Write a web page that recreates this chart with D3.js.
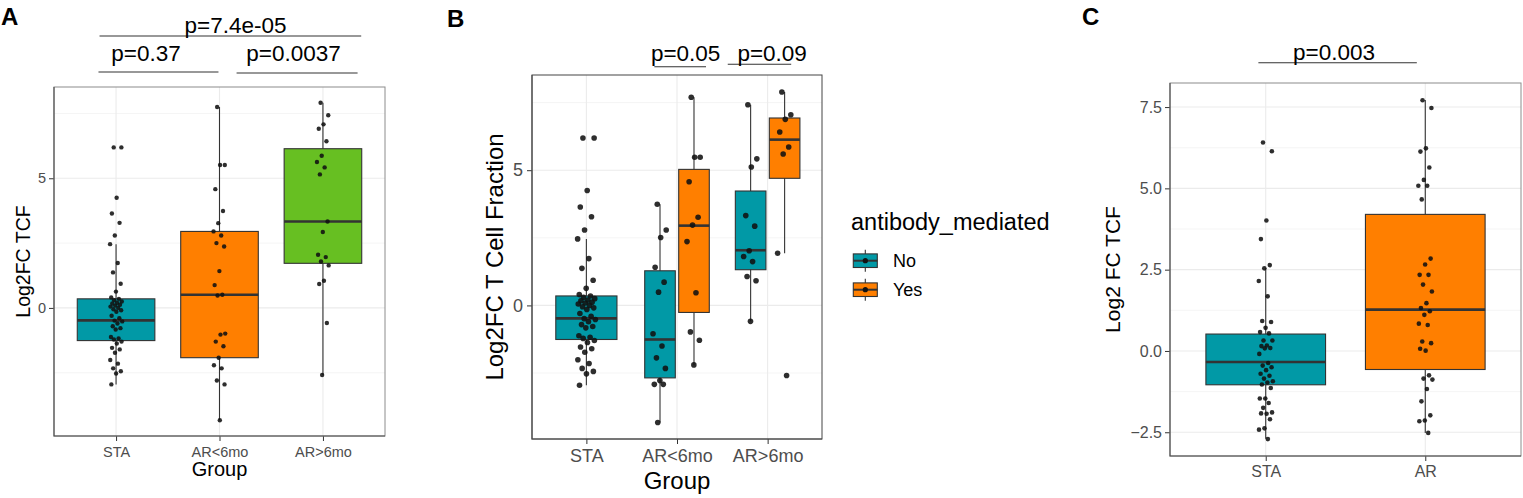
<!DOCTYPE html>
<html>
<head>
<meta charset="utf-8">
<script src="https://cdn.jsdelivr.net/npm/d3@7"></script>
<style>
body { margin: 0; background: #fff; }
svg { display: block; font-family: "Liberation Sans", Arial, Helvetica, sans-serif; }
</style>
</head>
<body>
<div id="chart-area"></div>
<script>
// ---------- data ----------
// panel A
const groupsA = ["STA", "AR<6mo", "AR>6mo"];
const tcfSTA = [6.19, 6.19, 4.25, 3.64, 3.28, 2.79, 2.46, 1.73, 1.37, 0.93, 0.63, 0.40, 0.35, 0.30, 0.25, 0.20,
  0.17, 0.12, 0.09, 0.05, 0.0, -0.05, -0.09, -0.15, -0.30, -0.40, -0.49, -0.52, -0.60, -0.71, -0.78, -0.83,
  -1.12, -1.18, -1.22, -1.30, -1.37, -1.54, -1.60, -1.73, -2.01, -2.15, -2.33, -2.44, -2.53, -2.95];
const tcfEarly = [7.75, 5.51, 5.51, 4.58, 3.74, 3.27, 2.95, 2.79, 2.50, 2.37, 1.42, 0.88, 0.51, 0.48,
  -0.99, -1.03, -1.30, -1.48, -1.92, -2.21, -2.33, -2.80, -2.95, -4.33];
const tcfLate = [7.91, 7.43, 7.08, 6.91, 6.43, 5.87, 5.63, 5.42, 5.15, 3.33, 2.93, 2.05, 1.96, 1.79, 1.64,
  1.05, 0.92, -0.58, -2.59];
// [lower whisker, q1, median, q3, upper whisker]
const boxSTA = [-2.95, -1.26, -0.48, 0.35, 2.46];
const boxEarly = [-4.33, -1.92, 0.51, 2.95, 7.75];
const boxLate = [-2.59, 1.72, 3.33, 6.14, 7.91];
const pvalsA = ["p=7.4e-05", "p=0.37", "p=0.0037"];

// panel B (STA reuses tcfSTA / boxSTA)
const subgroupsB = ["No", "Yes"];
const tcfEarlyNo = [3.74, 2.79, 2.51, 1.41, 0.86, 0.49, -1.05, -1.50, -1.94, -2.33, -2.78, -2.92, -2.92, -4.33];
const tcfEarlyYes = [7.70, 5.48, 5.48, 4.57, 3.26, 2.97, 2.36, 0.47, -0.98, -1.29, -2.20];
const tcfLateNo = [7.42, 5.42, 5.12, 3.32, 2.93, 2.02, 1.81, 1.62, 1.07, 0.91, -0.59];
const tcfLateYes = [7.89, 7.05, 6.88, 6.41, 5.86, 5.60, 1.93, -2.59];
const boxEarlyNo = [-4.33, -2.68, -1.26, 1.28, 3.74];
const boxEarlyYes = [-2.21, -0.26, 2.95, 5.03, 7.70];
const boxLateNo = [-0.59, 1.32, 2.04, 4.23, 7.42];
const boxLateYes = [1.93, 4.70, 6.13, 6.93, 7.89];
const pvalsB = ["p=0.05", "p=0.09"];

// panel C
const groupsC = ["STA", "AR"];
const tcfC_STA = [6.41, 6.14, 4.01, 3.44, 2.64, 2.54, 2.15, 1.68, 0.92, 0.89, 0.71, 0.58, 0.54, 0.32, 0.32, 0.17,
  0.15, 0.09, 0.08, -0.09, -0.37, -0.45, -0.50, -0.59, -0.70, -0.76, -0.85, -0.93, -0.97, -1.03, -1.14, -1.46,
  -1.46, -1.60, -1.75, -1.89, -1.93, -1.92, -2.10, -2.38, -2.42, -2.71];
const tcfC_AR = [7.71, 7.47, 6.23, 6.13, 5.64, 5.26, 5.08, 5.08, 4.66, 2.84, 2.66, 2.34, 2.34, 2.04, 1.83, 1.47,
  1.32, 1.22, 1.11, 0.84, 0.80, 0.29, 0.24, 0.01, 0.07, -0.75, -0.85, -0.88, -1.17, -1.55, -1.98, -2.14, -2.16, -2.52];
const boxC_STA = [-2.70, -1.04, -0.34, 0.52, 2.55];
const boxC_AR = [-2.52, -0.57, 1.27, 4.20, 7.72];
const pvalC = ["p=0.003"];

const yTicksAB = [0, 5];
const yMinorAB = [-2.5, 2.5, 7.5];
const yTicksC = [-2.5, 0, 2.5, 5, 7.5];
const yMinorC = [-1.25, 1.25, 3.75, 6.25];

const TEAL = "#0199a6", ORANGE = "#ff7f00", GREEN = "#67bf22";
const DARK = "#333333";

const svg = d3.select("#chart-area").append("svg").attr("width", 1523).attr("height", 498);

// deterministic jitter in [-1, 1]
const jit = i => ((i * 0.618034 + 0.31) % 1) * 2 - 1;

function panel(o) {
    const x = d3.scalePoint().domain(o.cats).range([o.left, o.right]).padding(0.6);
    const y = d3.scaleLinear().domain(o.yDomain).range([o.bottom, o.top]);
    const g = svg.append("g");

    g.selectAll(".minor").data(o.minor).enter().append("line")
        .attr("x1", o.left).attr("x2", o.right)
        .attr("y1", d => y(d)).attr("y2", d => y(d))
        .attr("stroke", "#f3f3f3").attr("stroke-width", 0.8);
    g.selectAll(".major").data(o.ticks).enter().append("line")
        .attr("x1", o.left).attr("x2", o.right)
        .attr("y1", d => y(d)).attr("y2", d => y(d))
        .attr("stroke", "#ebebeb").attr("stroke-width", 1.1);
    g.selectAll(".vgrid").data(o.cats).enter().append("line")
        .attr("x1", d => x(d)).attr("x2", d => x(d))
        .attr("y1", o.top).attr("y2", o.bottom)
        .attr("stroke", "#ebebeb").attr("stroke-width", 1.1);

    const yAxis = g.append("g").attr("transform", `translate(${o.left},0)`)
        .call(d3.axisLeft(y).tickValues(o.ticks).tickSize(5).tickPadding(o.yPad)
            .tickFormat(o.fmt || d3.format("d")));
    const xAxis = g.append("g").attr("transform", `translate(0,${o.bottom})`)
        .call(d3.axisBottom(x).tickSize(5).tickPadding(o.xPad));
    [yAxis, xAxis].forEach(a => {
        a.select(".domain").remove();
        a.selectAll("line").attr("stroke", DARK);
        a.selectAll("text").attr("fill", "#4d4d4d").attr("font-size", o.tickFont + "px")
            .attr("font-family", "Liberation Sans, Arial, sans-serif");
    });
    return { x, y, g, step: x.step() };
}

function frame(p, o, allDark) {
    p.g.append("rect").attr("x", o.left).attr("y", o.top)
        .attr("width", o.right - o.left).attr("height", o.bottom - o.top)
        .attr("fill", "none").attr("stroke", allDark ? "#444" : "#8c8c8c").attr("stroke-width", 1);
    p.g.append("path").attr("d", `M${o.left},${o.top}V${o.bottom}H${o.right}`)
        .attr("fill", "none").attr("stroke", "#4d4d4d").attr("stroke-width", 1.1);
}

function drawBox(p, cx, w, s, fill) {
    const y = p.y;
    p.g.append("line").attr("x1", cx).attr("x2", cx).attr("y1", y(s[0])).attr("y2", y(s[4]))
        .attr("stroke", DARK).attr("stroke-width", 1.1);
    p.g.append("rect").attr("x", cx - w / 2).attr("width", w)
        .attr("y", y(s[3])).attr("height", y(s[1]) - y(s[3]))
        .attr("fill", fill).attr("stroke", DARK).attr("stroke-width", 1.1);
    p.g.append("line").attr("x1", cx - w / 2).attr("x2", cx + w / 2)
        .attr("y1", y(s[2])).attr("y2", y(s[2]))
        .attr("stroke", DARK).attr("stroke-width", 2.6);
}

function drawPoints(p, cx, spread, vals, r) {
    p.g.append("g").selectAll("circle").data(vals).enter().append("circle")
        .attr("cx", (d, i) => cx + jit(i) * spread)
        .attr("cy", d => p.y(d)).attr("r", r)
        .attr("fill", "#111").attr("fill-opacity", 0.88);
}

function bracket(p, x1, x2, yLine, label, tx, ty) {
    p.g.append("line").attr("x1", x1).attr("x2", x2).attr("y1", yLine).attr("y2", yLine)
        .attr("stroke", "#333").attr("stroke-width", 1.1);
    p.g.append("text").attr("x", tx).attr("y", ty).attr("text-anchor", "middle")
        .attr("font-size", "22.5px").attr("fill", "#000").text(label);
}

function tag(x, y, t) {
    svg.append("text").attr("x", x).attr("y", y).attr("font-size", "24px")
        .attr("font-weight", "bold").text(t);
}

// ---------- panel A ----------
const oA = { left: 54, right: 385, top: 87, bottom: 436, cats: groupsA, yDomain: [-4.94, 8.52],
    ticks: yTicksAB, minor: yMinorAB, tickFont: 14.5, yPad: 3, xPad: 5.4 };
const pA = panel(oA);
const fillsA = [TEAL, ORANGE, GREEN];
[boxSTA, boxEarly, boxLate].forEach((s, i) => drawBox(pA, pA.x(groupsA[i]), 0.75 * pA.step, s, fillsA[i]));
[tcfSTA, tcfEarly, tcfLate].forEach((v, i) => drawPoints(pA, pA.x(groupsA[i]), 0.06 * pA.step, v, 2.2));
frame(pA, oA, false);
{
    const s = pA.step, xa = pA.x;
    bracket(pA, xa("STA") - 0.16 * s, xa("AR>6mo") + 0.37 * s, 36, pvalsA[0], xa("AR<6mo") + 0.155 * s, 33);
    bracket(pA, xa("STA") - 0.17 * s, xa("AR<6mo") - 0.01 * s, 72, pvalsA[1], xa("STA") + 0.29 * s, 61);
    bracket(pA, xa("AR<6mo") + 0.165 * s, xa("AR>6mo") + 0.335 * s, 73, pvalsA[2], xa("AR<6mo") + 0.716 * s, 61);
}
svg.append("text").attr("transform", `translate(30,${(oA.top + oA.bottom) / 2}) rotate(-90)`)
    .attr("text-anchor", "middle").attr("font-size", "19.5px").text("Log2FC TCF");
svg.append("text").attr("x", (oA.left + oA.right) / 2).attr("y", 476)
    .attr("text-anchor", "middle").attr("font-size", "20px").text("Group");
tag(1, 25, "A");

// ---------- panel B ----------
const oB = { left: 532, right: 822, top: 75, bottom: 439, cats: groupsA, yDomain: [-4.94, 8.52],
    ticks: yTicksAB, minor: yMinorAB, tickFont: 18, yPad: 4, xPad: 4.9 };
const pB = panel(oB);
{
    const s = pB.step, xb = pB.x;
    const half = 0.75 / 2 * 0.9 * s, off = 0.1875 * s;
    drawBox(pB, xb("STA"), 0.75 * 0.9 * s, boxSTA, TEAL);
    drawBox(pB, xb("AR<6mo") - off, half, boxEarlyNo, TEAL);
    drawBox(pB, xb("AR<6mo") + off, half, boxEarlyYes, ORANGE);
    drawBox(pB, xb("AR>6mo") - off, half, boxLateNo, TEAL);
    drawBox(pB, xb("AR>6mo") + off, half, boxLateYes, ORANGE);
    drawPoints(pB, xb("STA"), 0.1 * s, tcfSTA, 2.8);
    drawPoints(pB, xb("AR<6mo") - off, 0.08 * s, tcfEarlyNo, 2.8);
    drawPoints(pB, xb("AR<6mo") + off, 0.08 * s, tcfEarlyYes, 2.8);
    drawPoints(pB, xb("AR>6mo") - off, 0.08 * s, tcfLateNo, 2.8);
    drawPoints(pB, xb("AR>6mo") + off, 0.08 * s, tcfLateYes, 2.8);
    frame(pB, oB, true);
    bracket(pB, xb("AR<6mo") - 0.25 * s, xb("AR<6mo") + 0.32 * s, 66.7, pvalsB[0], xb("AR<6mo") + 0.095 * s, 60.7);
    bracket(pB, xb("AR>6mo") - 0.44 * s, xb("AR>6mo") + 0.26 * s, 64.3, pvalsB[1], xb("AR>6mo") + 0.05 * s, 60.7);
}
svg.append("text").attr("transform", `translate(503,${(oB.top + oB.bottom) / 2}) rotate(-90)`)
    .attr("text-anchor", "middle").attr("font-size", "24px").text("Log2FC T Cell Fraction");
svg.append("text").attr("x", (oB.left + oB.right) / 2).attr("y", 489)
    .attr("text-anchor", "middle").attr("font-size", "24px").text("Group");
tag(447, 27, "B");

// legend
const legend = svg.append("g");
legend.append("text").attr("x", 851).attr("y", 230).attr("font-size", "23.5px").text("antibody_mediated");
subgroupsB.forEach((k, i) => {
    const cy = 260.7 + i * 29, cx = 865.3;
    legend.append("line").attr("x1", cx).attr("x2", cx).attr("y1", cy - 11).attr("y2", cy + 11)
        .attr("stroke", DARK).attr("stroke-width", 1.1);
    legend.append("rect").attr("x", cx - 12).attr("y", cy - 6.8).attr("width", 24).attr("height", 13.6)
        .attr("fill", i === 0 ? TEAL : ORANGE).attr("stroke", DARK).attr("stroke-width", 1.1);
    legend.append("line").attr("x1", cx - 12).attr("x2", cx + 12).attr("y1", cy).attr("y2", cy)
        .attr("stroke", DARK).attr("stroke-width", 2);
    legend.append("circle").attr("cx", cx).attr("cy", cy).attr("r", 2.6).attr("fill", "#111");
    legend.append("text").attr("x", 893).attr("y", cy + 6.5).attr("font-size", "18px").text(k);
});

// ---------- panel C ----------
const oC = { left: 1170, right: 1521, top: 83, bottom: 456, cats: groupsC, yDomain: [-3.23, 8.24],
    ticks: yTicksC, minor: yMinorC, tickFont: 16, yPad: 3, xPad: 4.3, fmt: d3.format(".1f") };
const pC = panel(oC);
{
    const s = pC.step, xc = pC.x;
    drawBox(pC, xc("STA"), 0.75 * s, boxC_STA, TEAL);
    drawBox(pC, xc("AR"), 0.75 * s, boxC_AR, ORANGE);
    drawPoints(pC, xc("STA"), 0.045 * s, tcfC_STA, 2.3);
    drawPoints(pC, xc("AR"), 0.045 * s, tcfC_AR, 2.3);
    frame(pC, oC, false);
    bracket(pC, xc("STA") - 0.046 * s, xc("AR") - 0.053 * s, 62.7, pvalC[0], xc("STA") + 0.428 * s, 60);
}
svg.append("text").attr("transform", `translate(1120,${(oC.top + oC.bottom) / 2}) rotate(-90)`)
    .attr("text-anchor", "middle").attr("font-size", "21px").text("Log2 FC TCF");
tag(1082, 25, "C");
</script>
</body>
</html>
